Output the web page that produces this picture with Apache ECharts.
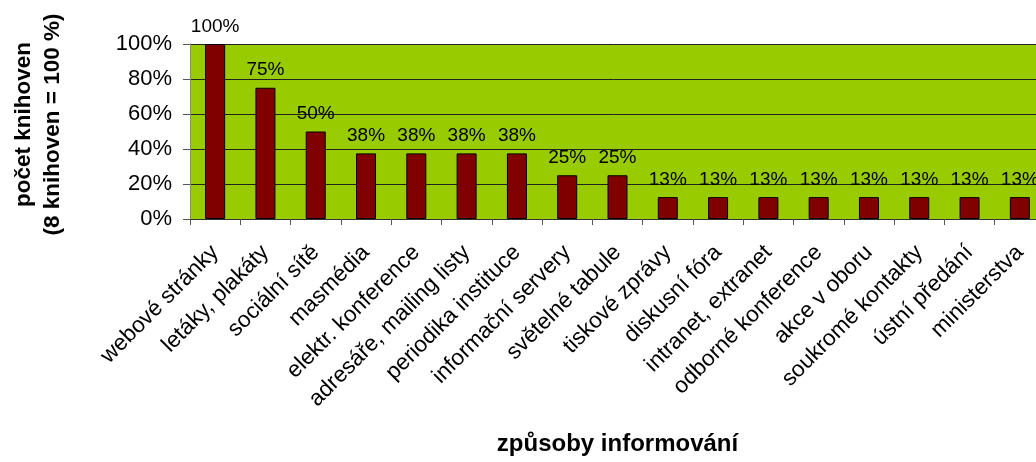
<!DOCTYPE html>
<html lang="cs">
<head>
    <meta charset="UTF-8">
    <title>způsoby informování</title>
    <script src="https://cdn.jsdelivr.net/npm/echarts@6/dist/echarts.min.js"></script>
    <style>
        html, body { margin: 0; padding: 0; background: #fff; }
        #main { width: 1036px; height: 462px; }
    </style>
</head>
<body>
    <div id="main"></div>
    <script type="text/javascript">
        // data
        var categories = ['webové stránky', 'letáky, plakáty', 'sociální sítě', 'masmédia',
            'elektr. konference', 'adresáře, mailing listy', 'periodika instituce',
            'informační servery', 'světelné tabule', 'tiskové zprávy', 'diskusní fóra',
            'intranet, extranet', 'odborné konference', 'akce v oboru', 'soukromé kontakty',
            'ústní předání', 'ministerstva'];
        var percents = [100, 75, 50, 37.5, 37.5, 37.5, 37.5, 25, 25,
            12.5, 12.5, 12.5, 12.5, 12.5, 12.5, 12.5, 12.5];
        var yTicks = [0, 20, 40, 60, 80, 100];

        var font = 'Liberation Sans, Arial, sans-serif';
        var myChart = echarts.init(document.getElementById('main'));

        var option = {
            animation: false,
            grid: {
                left: 190,
                top: 44,
                width: 855,
                height: 175,
                containLabel: false,
                outerBoundsMode: 'none',
                show: true,
                backgroundColor: '#99CC00',
                borderWidth: 0
            },
            xAxis: {
                type: 'category',
                data: categories,
                name: 'způsoby informování',
                nameLocation: 'middle',
                nameGap: 213,
                nameTextStyle: { fontFamily: font, fontWeight: 'bold', fontSize: 24, color: '#000' },
                axisLine: { lineStyle: { color: '#333', width: 1 } },
                axisTick: { show: true, length: 6, lineStyle: { color: '#555' } },
                axisLabel: {
                    interval: 0,
                    rotate: 45,
                    margin: 30,
                    fontFamily: font,
                    fontSize: 22.5,
                    color: '#000'
                }
            },
            yAxis: {
                type: 'value',
                min: yTicks[0],
                max: yTicks[yTicks.length - 1],
                interval: 20,
                name: 'počet knihoven\n(8 knihoven = 100 %)',
                nameLocation: 'middle',
                nameRotate: 90,
                nameGap: 123,
                nameTextStyle: {
                    fontFamily: font, fontWeight: 'bold', fontSize: 22.5, lineHeight: 29,
                    color: '#000', align: 'center', padding: [0, 0, 0, 14]
                },
                axisLine: { show: true, lineStyle: { color: '#888', width: 1 } },
                axisTick: { show: true, length: 7, lineStyle: { color: '#555' } },
                axisLabel: {
                    margin: 18,
                    fontFamily: font,
                    fontSize: 22,
                    color: '#000',
                    formatter: '{value}%'
                },
                splitLine: { lineStyle: { color: '#222', width: 1 } }
            },
            series: [{
                type: 'bar',
                data: percents,
                barWidth: 20,
                itemStyle: { color: '#800000', borderColor: '#000', borderWidth: 1 },
                label: {
                    show: true,
                    position: 'top',
                    distance: 8,
                    fontFamily: font,
                    fontSize: 19,
                    color: '#000',
                    formatter: function (p) { return Math.round(p.value) + '%'; }
                }
            }]
        };

        myChart.setOption(option);
    </script>
</body>
</html>
